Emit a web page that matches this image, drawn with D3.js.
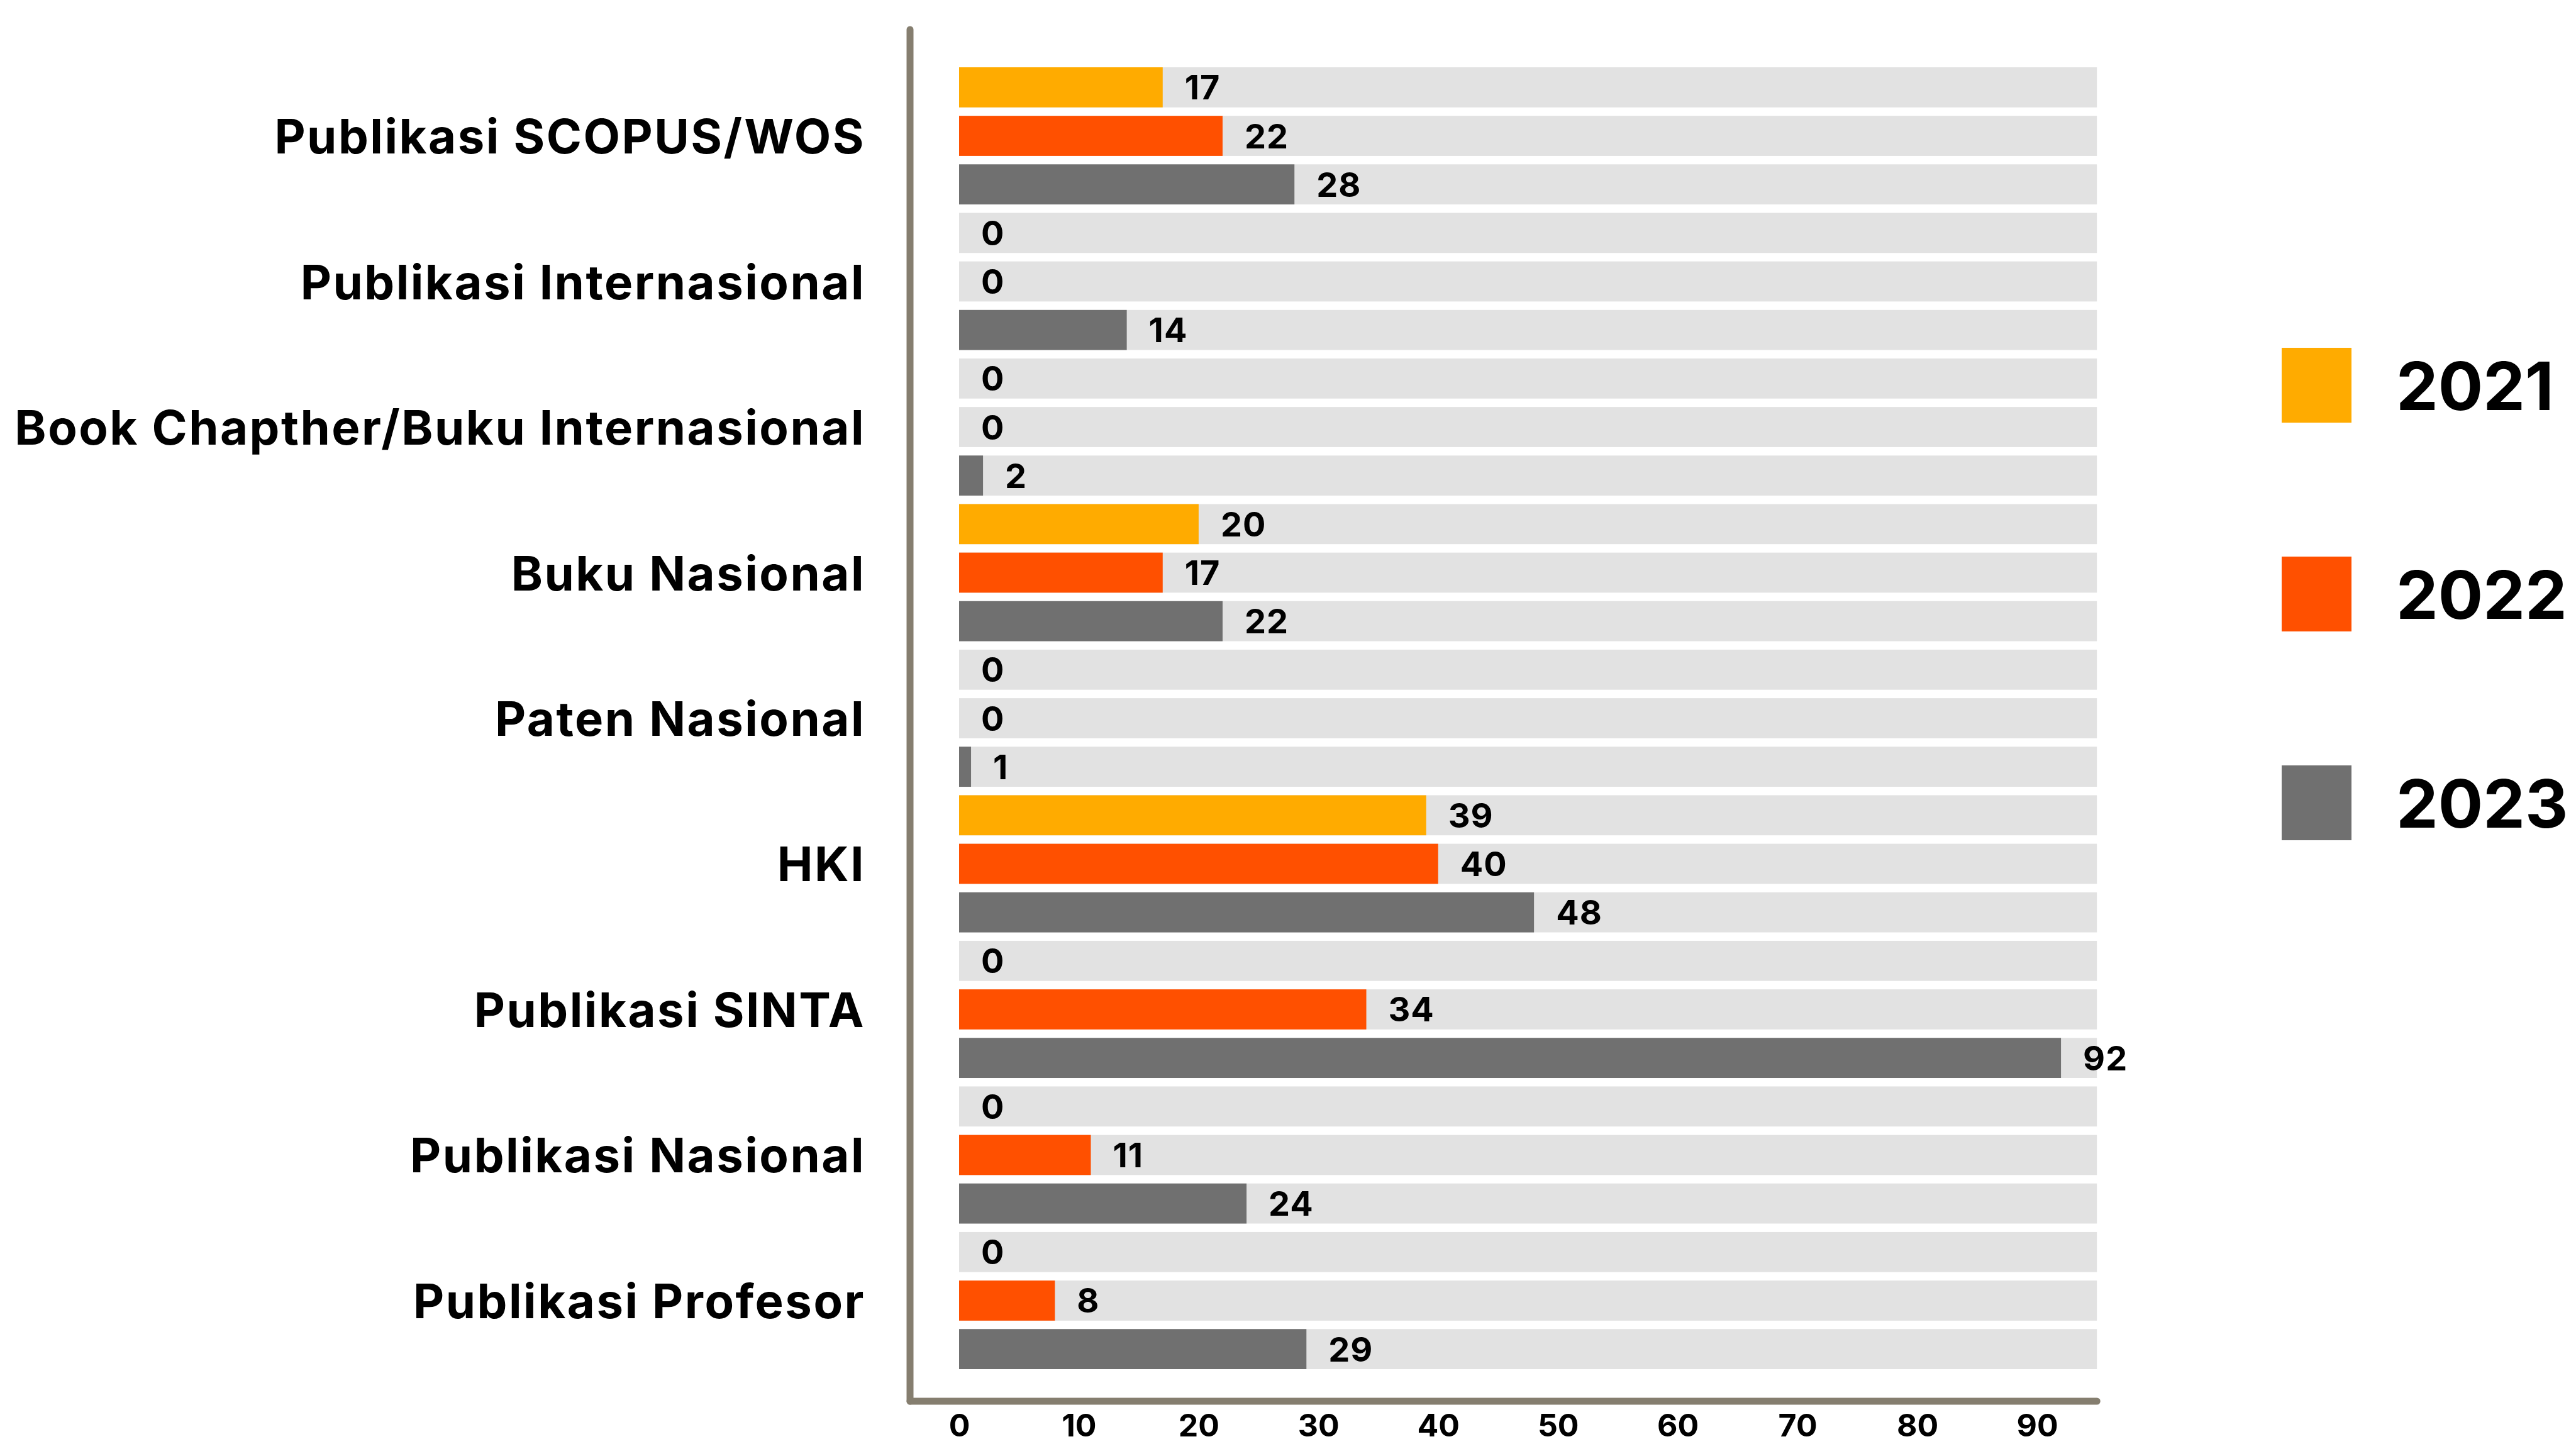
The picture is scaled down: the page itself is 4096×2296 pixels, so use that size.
<!DOCTYPE html>
<html>
<head>
<meta charset="utf-8">
<script src="https://cdn.jsdelivr.net/npm/d3@7"></script>
<style>
  body { margin: 0; background: #fff; }
  svg { display: block; }
  text { font-family: Inter, "Open Sans", sans-serif; font-weight: 700; fill: #000; }
</style>
</head>
<body>
<svg id="chart" width="4096" height="2296"></svg>
<script>
// data
var categories = [
    "Publikasi SCOPUS/WOS",
    "Publikasi Internasional",
    "Book Chapther/Buku Internasional",
    "Buku Nasional",
    "Paten Nasional",
    "HKI",
    "Publikasi SINTA",
    "Publikasi Nasional",
    "Publikasi Profesor"
];
var years = ["2021", "2022", "2023"];
var values2021 = [17, 0, 0, 20, 0, 39, 0, 0, 0];
var values2022 = [22, 0, 0, 17, 0, 40, 34, 11, 8];
var values2023 = [28, 14, 2, 22, 1, 48, 92, 24, 29];
var xTicks = [0, 10, 20, 30, 40, 50, 60, 70, 80, 90];
var trackMax = 95;

var colors = ["#ffab00", "#ff5000", "#707070"];
var series = [values2021, values2022, values2023];

// one row per category/year pair
var rows = [];
categories.forEach(function (c, i) {
    years.forEach(function (yr, j) {
        rows.push({cat: c, year: yr, yi: j, value: series[j][i], key: i + "-" + j});
    });
});

var svg = d3.select("#chart");

var x = d3.scaleLinear()
    .domain([0, 90])
    .range([1525, 3239]);

var y = d3.scaleBand()
    .domain(rows.map(function (d) { return d.key; }))
    .range([107, 2177])
    .paddingInner(0.174)
    .paddingOuter(0);

var axisColor = "#857e6f";

// grey tracks
svg.append("g")
    .selectAll("rect")
    .data(rows)
    .enter().append("rect")
    .attr("x", x(0))
    .attr("y", function (d) { return y(d.key); })
    .attr("width", x(trackMax) - x(0))
    .attr("height", y.bandwidth())
    .attr("fill", "#e2e2e2");

// value bars
svg.append("g")
    .selectAll("rect")
    .data(rows.filter(function (d) { return d.value > 0; }))
    .enter().append("rect")
    .attr("x", x(0))
    .attr("y", function (d) { return y(d.key); })
    .attr("width", function (d) { return x(d.value) - x(0); })
    .attr("height", y.bandwidth())
    .attr("fill", function (d) { return colors[d.yi]; });

// value labels
svg.append("g")
    .selectAll("text")
    .data(rows)
    .enter().append("text")
    .attr("x", function (d) { return x(d.value) + 35; })
    .attr("y", function (d) { return y(d.key) + y.bandwidth() / 2; })
    .attr("dominant-baseline", "central")
    .style("font-size", "54px")
    .style("letter-spacing", "1px")
    .text(function (d) { return d.value; });

// category labels, aligned with the middle bar of each group
svg.append("g")
    .selectAll("text")
    .data(categories)
    .enter().append("text")
    .attr("x", 1376)
    .attr("y", function (d, i) { return y(i + "-1") + y.bandwidth() / 2; })
    .attr("text-anchor", "end")
    .attr("dominant-baseline", "central")
    .style("font-size", "76px")
    .style("letter-spacing", "2.5px")
    .text(function (d) { return d; });

// axis lines
svg.append("line")
    .attr("x1", 1447).attr("x2", 1447)
    .attr("y1", 47).attr("y2", 2228)
    .attr("stroke", axisColor)
    .attr("stroke-width", 11)
    .attr("stroke-linecap", "round");

svg.append("line")
    .attr("x1", 1447).attr("x2", x(trackMax))
    .attr("y1", 2228).attr("y2", 2228)
    .attr("stroke", axisColor)
    .attr("stroke-width", 11)
    .attr("stroke-linecap", "round");

// tick labels
var xAxis = svg.append("g")
    .attr("transform", "translate(0,2228)")
    .call(d3.axisBottom(x).tickValues(xTicks).tickSize(0).tickPadding(20));
xAxis.select(".domain").remove();
xAxis.selectAll("text")
    .style("font-size", "50px")
    .style("font-family", "Inter, 'Open Sans', sans-serif")
    .style("font-weight", 700)
    .attr("fill", "#000");

// legend
var ly = d3.scalePoint()
    .domain(years)
    .range([613, 1277]);

var legend = svg.append("g")
    .selectAll("g")
    .data(years)
    .enter().append("g")
    .attr("transform", function (d) { return "translate(0," + ly(d) + ")"; });

legend.append("rect")
    .attr("x", 3628)
    .attr("y", -60)
    .attr("width", 111)
    .attr("height", 119)
    .attr("fill", function (d, i) { return colors[i]; });

legend.append("text")
    .attr("x", 3810)
    .attr("y", 0)
    .attr("dominant-baseline", "central")
    .style("font-size", "106px")
    .text(function (d) { return d; });
</script>
</body>
</html>
